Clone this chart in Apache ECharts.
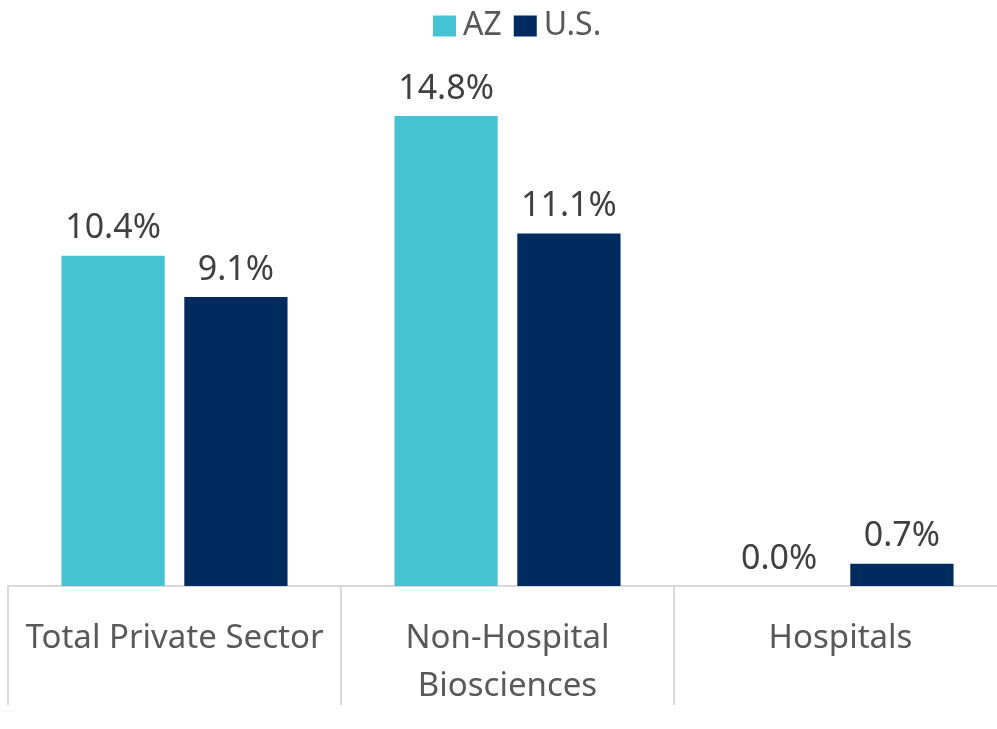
<!DOCTYPE html>
<html>
<head>
<meta charset="utf-8">
<script src="https://cdn.jsdelivr.net/npm/echarts@6/dist/echarts.min.js"></script>
<style>
  html, body { margin: 0; padding: 0; background: #fff; overflow: hidden; }
  #chart { width: 1007px; height: 729px; }
</style>
</head>
<body>
<div id="chart"></div>
<script>
// categories and values (percent)
const categories = ['Total Private Sector', 'Non-Hospital\nBiosciences', 'Hospitals'];
const azValues = [10.4, 14.8, 0.0];
const usValues = [9.1, 11.1, 0.7];

const chart = echarts.init(document.getElementById('chart'));

const labelStyle = {
  show: true,
  position: 'top',
  distance: 10,
  fontFamily: 'Noto Sans',
  fontSize: 34,
  color: '#404040',
  formatter: p => p.value.toFixed(1) + '%'
};

const option = {
  animation: false,
  textStyle: { fontFamily: 'Noto Sans' },
  legend: {
    data: ['AZ', 'U.S.'],
    top: 5,
    left: 428,
    itemWidth: 23,
    itemHeight: 21,
    itemGap: 12,
    icon: 'rect',
    textStyle: { fontSize: 32, color: '#595959', fontFamily: 'Noto Sans', padding: [0, 0, 0, 2] }
  },
  grid: {
    top: 78,
    bottom: 143,
    left: 8,
    right: 0
  },
  xAxis: {
    type: 'category',
    data: categories,
    axisLine: { lineStyle: { color: '#d9d9d9', width: 2 } },
    axisTick: { show: true, length: 119, lineStyle: { color: '#d9d9d9', width: 2 } },
    axisLabel: {
      margin: 29,
      fontSize: 33,
      lineHeight: 48,
      color: '#595959',
      fontFamily: 'Noto Sans',
      interval: 0
    }
  },
  yAxis: {
    type: 'value',
    min: 0,
    max: 16,
    show: false,
    splitLine: { show: false }
  },
  series: [
    {
      name: 'AZ',
      type: 'bar',
      data: azValues,
      barWidth: '31%',
      barGap: '19%',
      itemStyle: { color: '#45C3D3' },
      label: labelStyle
    },
    {
      name: 'U.S.',
      type: 'bar',
      data: usValues,
      barWidth: '31%',
      itemStyle: { color: '#002B5E' },
      label: labelStyle
    }
  ]
};

chart.setOption(option);
</script>
</body>
</html>
